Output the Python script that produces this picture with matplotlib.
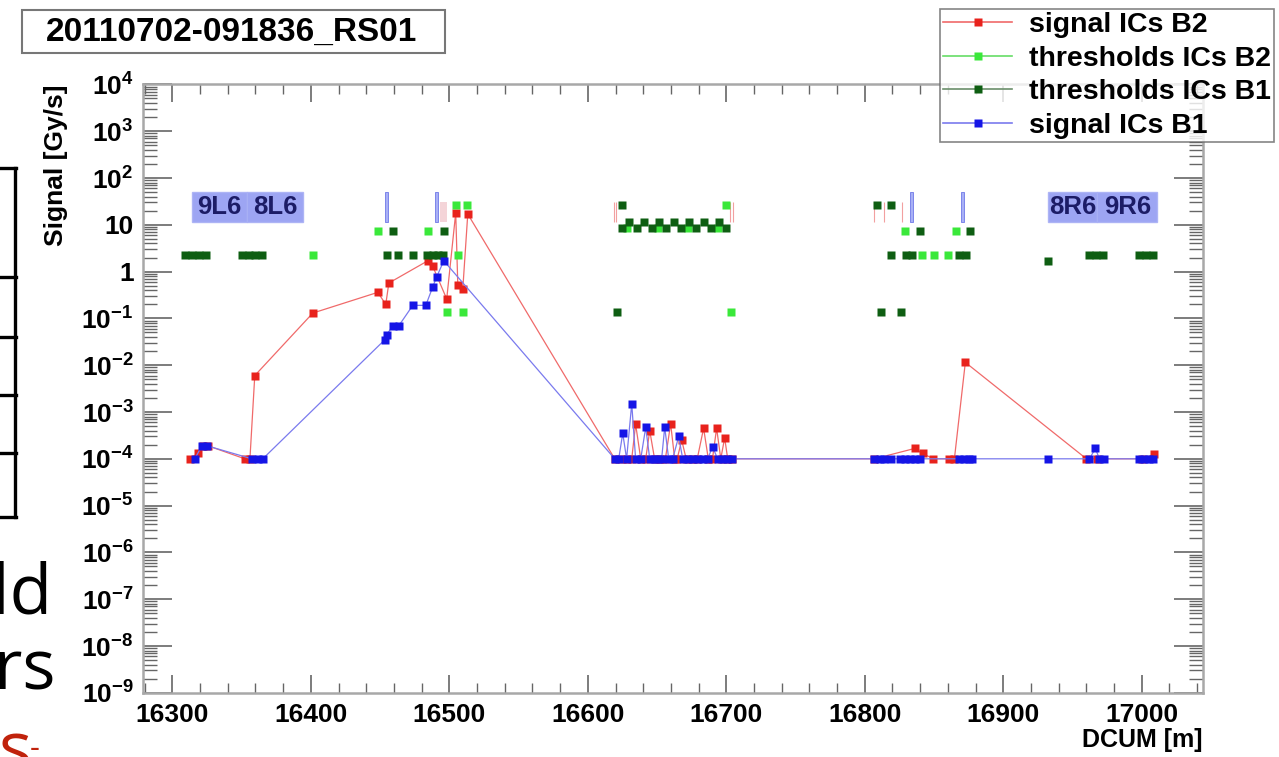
import matplotlib
matplotlib.use("Agg")
import matplotlib.pyplot as plt
from matplotlib.patches import Rectangle
from matplotlib.lines import Line2D
from matplotlib.ticker import FixedLocator, FixedFormatter, MultipleLocator, NullFormatter

plt.rcParams["font.family"] = ["Liberation Sans", "DejaVu Sans"]
plt.rcParams["font.weight"] = "bold"
plt.rcParams["mathtext.fontset"] = "custom"
plt.rcParams["mathtext.rm"] = "Liberation Sans:bold"
plt.rcParams["mathtext.default"] = "rm"

# --- data ---
b2_x = [16312.6, 16318.4, 16322.0, 16325.6, 16352.3, 16356.0, 16359.5, 16401.4, 16448.3,
        16454.1, 16456.3, 16484.4, 16488.0, 16498.1, 16504.6, 16506.1, 16509.7, 16513.3,
        16619.4, 16624.4, 16628.0, 16631.7, 16634.5, 16638.2, 16641.8, 16644.7, 16648.2,
        16652.0, 16656.0, 16659.8, 16662.7, 16664.5, 16667.8, 16671.0, 16675.0, 16679.0,
        16683.6, 16687.0, 16690.0, 16693.0, 16696.0, 16698.8, 16701.0, 16703.8,
        16807.0, 16835.9, 16841.7, 16849.6, 16861.1, 16864.7, 16872.6, 16960.0, 16968.0,
        17000.5, 17009.1]
b2_y = [1e-4, 1.3e-4, 1.9e-4, 1.9e-4, 1e-4, 1e-4, 6e-3, 0.13, 0.36,
        0.2, 0.57, 1.7, 1.3, 0.26, 18, 0.52, 0.42, 17,
        1e-4, 1e-4, 1e-4, 1e-4, 5.5e-4, 1e-4, 1e-4, 4e-4, 1e-4,
        1e-4, 1e-4, 5.6e-4, 1e-4, 1e-4, 2.5e-4, 1e-4, 1e-4, 1e-4,
        4.5e-4, 1e-4, 1e-4, 4.5e-4, 1e-4, 2.8e-4, 1e-4, 1e-4,
        1e-4, 1.66e-4, 1.3e-4, 1e-4, 1e-4, 1e-4, 0.0115, 1e-4, 1e-4,
        1e-4, 1.25e-4]

b1_x = [16316.2, 16321.3, 16324.9, 16357.4, 16361.7, 16365.3, 16453.4, 16454.8, 16459.1,
        16463.4, 16473.6, 16483.0, 16488.0, 16490.9, 16496.0,
        16619.4, 16622.3, 16625.2, 16628.0, 16631.7, 16634.5, 16638.2, 16641.8, 16644.7,
        16647.5, 16650.4, 16653.3, 16655.5, 16658.4, 16661.3, 16665.6, 16668.5, 16672.1,
        16675.7, 16679.3, 16682.9, 16686.5, 16690.1, 16693.7, 16697.3, 16700.2, 16703.8,
        16807.0, 16810.7, 16814.2, 16818.6, 16825.1, 16828.7, 16832.3, 16835.9, 16839.5,
        16868.3, 16871.9, 16875.5, 16877.7, 16932.6, 16962.2, 16966.5, 16969.4, 16973.0,
        16998.3, 17001.9, 17005.5, 17008.4]
b1_y = [1e-4, 1.9e-4, 1.9e-4, 1e-4, 1e-4, 1e-4, 0.035, 0.045, 0.069,
        0.069, 0.19, 0.19, 0.47, 0.78, 1.7,
        1e-4, 1e-4, 3.5e-4, 1e-4, 1.5e-3, 1e-4, 1e-4, 4.7e-4, 1e-4,
        1e-4, 1e-4, 1e-4, 4.7e-4, 1e-4, 1e-4, 3e-4, 1e-4, 1e-4,
        1e-4, 1e-4, 1e-4, 1e-4, 1.8e-4, 1e-4, 1e-4, 1e-4, 1e-4,
        1e-4, 1e-4, 1e-4, 1e-4, 1e-4, 1e-4, 1e-4, 1e-4, 1e-4,
        1e-4, 1e-4, 1e-4, 1e-4, 1e-4, 1e-4, 1.66e-4, 1e-4, 1e-4,
        1e-4, 1e-4, 1e-4, 1e-4]

thr_b2_x = [16401.4, 16448.3, 16484.4, 16498.1, 16504.6, 16506.1, 16509.7, 16512.6,
            16628.0, 16650.4, 16672.1, 16694.0, 16699.5, 16703.1,
            16828.7, 16841.0, 16850.3, 16860.4, 16865.5]
thr_b2_y = [2.3, 7.4, 7.4, 0.135, 26, 2.3, 0.135, 26,
            8.5, 8.5, 8.5, 8.5, 26, 0.135,
            7.4, 2.3, 2.3, 2.3, 7.4]

thr_b1_x = [16309, 16314, 16319, 16324, 16350, 16355, 16360, 16365,
            16454.8, 16462.7, 16473.6, 16484.0, 16488.0, 16492.0, 16495.5, 16459.1, 16496.0,
            16620.9, 16624.4,
            16624.4, 16629.8, 16635.2, 16640.6, 16646.0, 16651.4, 16656.8, 16662.2,
            16667.6, 16673.0, 16678.4, 16683.8, 16689.2, 16694.6, 16700.0,
            16808.5, 16818.6, 16839.5, 16876.3, 16818.6, 16830.0, 16834.0, 16868.0, 16873.0,
            16932.6, 16962.0, 16967.0, 16972.0, 16998.0, 17003.0, 17008.0, 16811.4, 16826.5]
thr_b1_y = [2.3, 2.3, 2.3, 2.3, 2.3, 2.3, 2.3, 2.3,
            2.3, 2.3, 2.3, 2.3, 2.3, 2.3, 2.3, 7.4, 7.4,
            0.135, 26,
            8.5, 11.5, 8.5, 11.5, 8.5, 11.5, 8.5, 11.5,
            8.5, 11.5, 8.5, 11.5, 8.5, 11.5, 8.5,
            26, 26, 7.4, 7.4, 2.3, 2.3, 2.3, 2.3, 2.3,
            1.67, 2.3, 2.3, 2.3, 2.3, 2.3, 2.3, 0.135, 0.135]

magnet_names = ["9L6", "8L6", "8R6", "9R6"]
magnet_lo = [16314, 16354, 16932, 16968]
magnet_hi = [16354, 16394, 16968, 17011]
bar_x = [16454.6, 16490.7, 16833.8, 16870.6]
pink_x = [16618.7, 16620.2, 16702.5, 16704.6, 16807.0, 16814.2, 16827.0]

y_ticks = [1e-9, 1e-8, 1e-7, 1e-6, 1e-5, 1e-4, 1e-3, 1e-2, 1e-1, 1, 10, 1e2, 1e3, 1e4]
y_labels = [r"$10^{-9}$", r"$10^{-8}$", r"$10^{-7}$", r"$10^{-6}$", r"$10^{-5}$",
            r"$10^{-4}$", r"$10^{-3}$", r"$10^{-2}$", r"$10^{-1}$", "1", "10",
            r"$10^{2}$", r"$10^{3}$", r"$10^{4}$"]

W, H = 1279, 757
red_mk, red_ln = "#e8221c", "#f06a6a"
blue_mk, blue_ln = "#1515e6", "#7a7aee"
lgreen, dgreen = "#3ae83a", "#0e5e12"

fig = plt.figure(figsize=(W / 100, H / 100), dpi=100)
ax = fig.add_axes([143.3 / W, 1 - 692.8 / H, (1202.7 - 143.3) / W, (692.8 - 84.4) / H])
ax.set_yscale("log")
ax.set_xlim(16279, 17044)
ax.set_ylim(1e-9, 1e4)

# magnet label boxes and marker bars
for name, lo, hi in zip(magnet_names, magnet_lo, magnet_hi):
    ax.add_patch(Rectangle((lo, 11.5), hi - lo, 50 - 11.5, facecolor="#929bf2",
                           edgecolor="#aab1f5", lw=1, alpha=0.9, zorder=1))
    ax.text((lo + hi) / 2, 23.5, name, ha="center", va="center", fontsize=18.5,
            color="#1c1c66", zorder=2)
for bx in bar_x:
    ax.add_patch(Rectangle((bx - 1, 11.5), 2, 50 - 11.5, facecolor="#a8b0f6",
                           edgecolor="#6f78e8", lw=0.6, zorder=1))
ax.add_patch(Rectangle((16493, 11.5), 5, 31 - 11.5, facecolor="#f4d4d8", edgecolor="none", zorder=1))
ax.vlines(pink_x, 11.5, 30, colors="#f2a0a0", lw=0.8, zorder=1)

ms = 5.2
ax.plot(b2_x, b2_y, "-", color=red_ln, lw=0.9, zorder=3)
ax.plot(b2_x, b2_y, "s", color=red_mk, ms=ms, mec="none", zorder=4)
ax.plot(thr_b2_x, thr_b2_y, "s", color=lgreen, ms=ms, mec="none", zorder=4)
ax.plot(thr_b1_x, thr_b1_y, "s", color=dgreen, ms=ms, mec="none", zorder=4)
ax.plot(b1_x, b1_y, "-", color=blue_ln, lw=0.9, zorder=5)
ax.plot(b1_x, b1_y, "s", color=blue_mk, ms=ms, mec="none", zorder=6)

# axes styling (ROOT-like)
ax.yaxis.set_major_locator(FixedLocator(y_ticks))
ax.yaxis.set_major_formatter(FixedFormatter(y_labels))
ax.yaxis.set_minor_locator(FixedLocator([m * 10.0 ** e for e in range(-9, 4) for m in range(2, 10)]))
ax.yaxis.set_minor_formatter(NullFormatter())
ax.xaxis.set_major_locator(MultipleLocator(100))
ax.xaxis.set_minor_locator(MultipleLocator(20))
ax.tick_params(which="both", direction="in", top=True, right=True, colors="#666666",
               labelcolor="black", labelsize=19)
ax.tick_params(axis="y", which="major", length=21, width=1.2, pad=7)
ax.tick_params(axis="y", which="minor", length=10, width=1.0)
ax.tick_params(axis="x", which="major", length=13, width=1.2, pad=7)
ax.tick_params(axis="x", which="minor", length=7, width=1.0)
for s in ax.spines.values():
    s.set_color("#a8a8a8")
    s.set_linewidth(1.8)

fig.text(56 / W, 1 - 85 / H, "Signal [Gy/s]", rotation=90, ha="center", va="top", fontsize=19)
fig.text(1203 / W, 1 - 740 / H, "DCUM [m]", ha="right", va="center", fontsize=18)

# title box
fig.patches.append(Rectangle((22 / W, 1 - 53 / H), 423 / W, 43 / H, transform=fig.transFigure,
                             facecolor="white", edgecolor="#777777", lw=1.5))
fig.text(232 / W, 1 - 32 / H, "20110702-091836_RS01", ha="center", va="center", fontsize=24)

# legend
handles = [
    Line2D([], [], color=red_ln, lw=1.2, marker="s", ms=ms, mfc=red_mk, mec="none"),
    Line2D([], [], color="#66dd66", lw=1.2, marker="s", ms=ms, mfc=lgreen, mec="none"),
    Line2D([], [], color="#6b8f6b", lw=1.2, marker="s", ms=ms, mfc=dgreen, mec="none"),
    Line2D([], [], color=blue_ln, lw=1.2, marker="s", ms=ms, mfc=blue_mk, mec="none"),
]
labels = ["signal ICs B2", "thresholds ICs B2", "thresholds ICs B1", "signal ICs B1"]
leg = fig.legend(handles, labels, loc="upper left", bbox_to_anchor=(940 / W, 1 - 9 / H),
                 borderaxespad=0, fontsize=20.5, frameon=True, fancybox=False,
                 handlelength=2.4, handletextpad=0.6, labelspacing=0.26, borderpad=0.12)
leg.get_frame().set_edgecolor("#666666")
leg.get_frame().set_linewidth(1.2)

# fragments of the surrounding slide
for yy in [168, 277, 337, 395, 453, 517]:
    fig.add_artist(Line2D([0, 16 / W], [1 - yy / H, 1 - yy / H], color="black", lw=2.4,
                          transform=fig.transFigure))
fig.add_artist(Line2D([15 / W, 15 / W], [1 - 168 / H, 1 - 517 / H], color="black", lw=2.4,
                      transform=fig.transFigure))
fig.text(52 / W, 1 - 613 / H, "ld", ha="right", va="baseline", fontsize=50,
         family="Open Sans", weight="normal")
fig.text(56 / W, 1 - 690 / H, "rs", ha="right", va="baseline", fontsize=50,
         family="Open Sans", weight="normal")
fig.text(-1 / W, 1 - 771 / H, "s", ha="left", va="baseline", fontsize=50,
         family="Open Sans", weight="normal", color="#c0220c")
fig.text(30 / W, 1 - 757 / H, "-", ha="left", va="baseline", fontsize=22,
         family="Open Sans", weight="normal", color="#c0220c")

fig.savefig("out.png", dpi=100)
